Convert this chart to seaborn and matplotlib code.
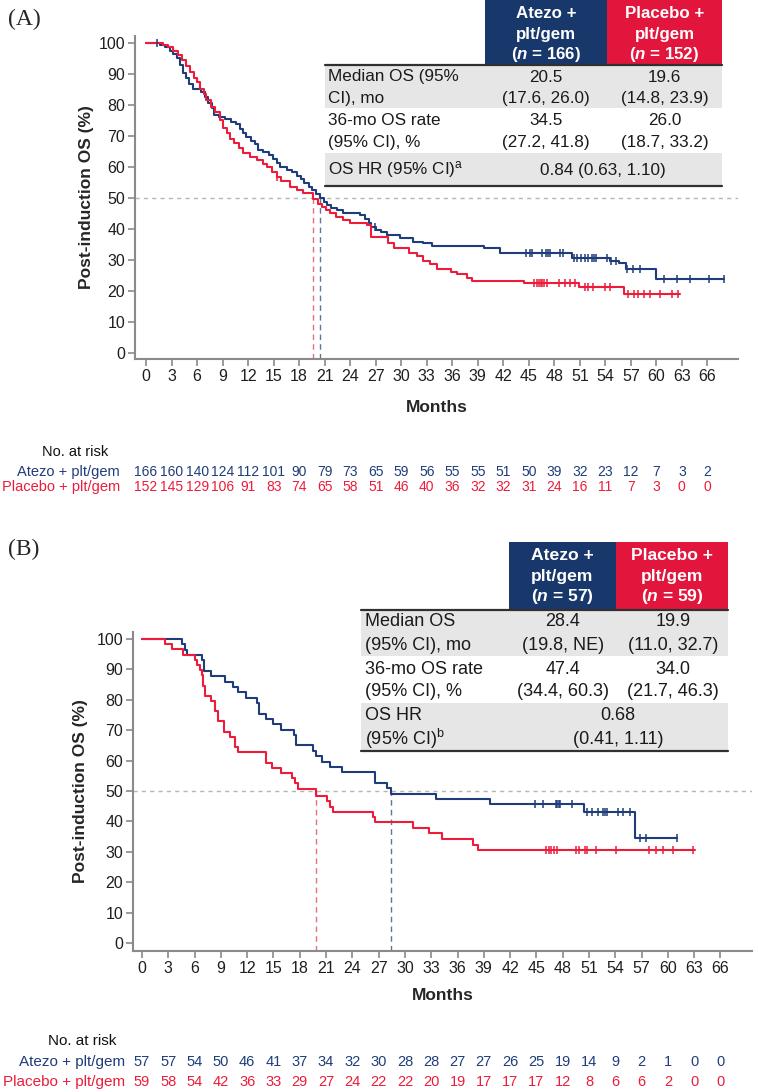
import numpy as np
import pandas as pd
import matplotlib
matplotlib.use("Agg")
import matplotlib.pyplot as plt
import seaborn as sns
from matplotlib.patches import Rectangle
from matplotlib.lines import Line2D

# ---------------- data ----------------
month_ticks = list(range(0, 67, 3))

# panel A, Kaplan-Meier steps (month, OS %)
a_atezo_t = [0, 1.6, 2.2, 2.8, 3.2, 3.6, 4.0, 4.3, 4.7, 5.1, 5.5, 6.5, 6.9, 7.3, 7.7, 8.0, 8.6, 9.3, 10.0, 10.6,
             11.0, 11.4, 11.8, 12.3, 12.8, 13.2, 13.8, 14.4, 14.9, 15.4, 15.8, 16.6, 17.2, 17.7, 18.2, 18.6, 19.1, 19.5,
             20.0, 20.5, 20.9, 21.3, 21.7, 22.5, 23.2, 25.2, 25.8, 26.2, 26.5, 27.0, 27.6, 28.3, 29.8, 31.4, 32.6, 33.6,
             39.7, 41.6, 50.1, 54.6, 55.6, 56.4, 59.9]
a_atezo_s = [100, 99.4, 98.8, 97.6, 96.4, 95.2, 92.8, 90.4, 88.6, 86.7, 85.3, 84.3, 82.5, 80.7, 78.9, 76.7, 76.1, 75.5,
             74.6, 73.7, 72.3, 70.8, 69.6, 68.4, 67.5, 65.4, 64.8, 63.9, 62.7, 61.2, 60.0, 59.0, 58.4, 57.2, 56.0, 54.8,
             53.6, 52.4, 51.2, 50.0, 48.8, 47.6, 46.6, 46.0, 45.2, 44.4, 43.0, 41.8, 40.6, 39.6, 38.8, 38.0, 37.1, 35.8,
             35.3, 34.5, 33.7, 32.3, 30.6, 29.6, 28.8, 26.9, 23.8]
a_atezo_end = 67.9
a_atezo_cens = [1.3, 26.9, 44.7, 45.1, 45.4, 46.6, 47.0, 47.3, 47.5, 48.7, 49.0, 50.3, 50.7, 51.1, 51.6, 52.0, 52.4,
                52.7, 52.9, 54.2, 54.7, 55.3, 56.5, 57.3, 58.1, 60.9, 62.4, 64.0, 66.2, 67.9]

a_plac_t = [0, 2.0, 2.6, 3.2, 3.7, 4.2, 4.7, 5.2, 5.6, 6.0, 6.4, 6.8, 7.1, 7.6, 8.1, 8.7, 9.1, 9.5, 9.9, 10.3, 10.9,
            11.4, 12.2, 13.0, 13.8, 14.2, 14.8, 15.4, 15.9, 16.9, 17.7, 18.5, 19.6, 20.2, 20.7, 21.2, 21.6, 22.3, 23.2,
            24.0, 26.0, 26.4, 28.5, 29.1, 30.9, 31.8, 32.6, 33.4, 34.2, 35.8, 36.6, 37.7, 38.3, 44.4, 50.9, 56.2]
a_plac_s = [100, 99.3, 98.7, 97.6, 96.0, 94.4, 92.5, 90.6, 88.8, 87.5, 85.3, 83.5, 81.5, 79.4, 77.8, 75.1, 72.5, 70.8,
            69.0, 67.6, 66.0, 64.4, 63.3, 62.2, 60.9, 60.0, 58.4, 56.8, 55.5, 53.5, 52.5, 51.4, 49.6, 48.0, 47.1, 46.0,
            45.0, 43.8, 42.8, 41.7, 41.2, 37.4, 35.3, 33.7, 32.1, 31.2, 29.7, 28.6, 26.9, 26.0, 25.4, 24.0, 23.2, 22.4,
            21.1, 18.8]
a_plac_end = 62.8
a_plac_cens = [15.4, 45.6, 46.0, 46.2, 46.4, 46.5, 46.8, 47.1, 48.5, 49.3, 49.8, 50.4, 51.6, 52.0, 52.5, 54.0, 54.5,
               56.7, 57.4, 57.9, 58.5, 59.2, 60.4, 61.8, 62.6]

a_risk_atezo = [166, 160, 140, 124, 112, 101, 90, 79, 73, 65, 59, 56, 55, 55, 51, 50, 39, 32, 23, 12, 7, 3, 2]
a_risk_plac = [152, 145, 129, 106, 91, 83, 74, 65, 58, 51, 46, 40, 36, 32, 32, 31, 24, 16, 11, 7, 3, 0, 0]
a_median = [20.5, 19.6]
a_n = [166, 152]
a_table = [["Median OS (95%", "20.5", "19.6"],
           ["CI), mo", "(17.6, 26.0)", "(14.8, 23.9)"],
           ["36-mo OS rate", "34.5", "26.0"],
           ["(95% CI), %", "(27.2, 41.8)", "(18.7, 33.2)"]]
a_hr = ["OS HR (95% CI)$^{\\mathrm{a}}$", "0.84 (0.63, 1.10)"]

# panel B
b_atezo_t = [0, 4.6, 4.9, 5.1, 6.8, 7.1, 7.9, 9.5, 10.4, 11.0, 11.9, 13.1, 13.4, 14.2, 15.0, 15.9, 17.3, 17.6, 19.5,
             19.9, 20.5, 21.4, 22.8, 26.6, 28.0, 28.4, 33.6, 39.7, 50.4, 56.3]
b_atezo_s = [100, 98.2, 96.5, 94.7, 93.0, 89.5, 87.7, 86.0, 84.2, 82.5, 80.7, 78.9, 75.4, 73.7, 71.9, 70.2, 68.4, 65.0,
             63.2, 61.4, 59.6, 57.9, 56.1, 52.6, 50.9, 49.1, 47.4, 45.6, 43.0, 34.4]
b_atezo_end = 61.0
b_atezo_cens = [44.8, 45.7, 47.2, 47.4, 47.6, 47.7, 49.1, 50.8, 51.4, 52.0, 52.6, 52.8, 53.1, 54.3, 54.9, 55.7,
                56.8, 57.5, 61.0]

b_plac_t = [0, 2.6, 3.4, 4.7, 6.0, 6.3, 6.6, 6.8, 7.0, 7.2, 7.9, 8.3, 8.7, 9.3, 10.0, 10.6, 11.0, 14.2, 14.8, 15.9,
            17.1, 17.4, 17.8, 19.9, 21.1, 21.4, 21.8, 26.4, 26.6, 30.9, 32.8, 34.2, 37.8, 38.3]
b_plac_s = [100, 98.3, 96.6, 94.9, 93.2, 91.5, 89.8, 88.1, 84.7, 81.4, 79.7, 76.3, 72.9, 69.5, 67.8, 64.4, 62.7, 59.3,
            57.6, 55.9, 54.2, 52.5, 50.6, 48.3, 46.6, 44.9, 43.2, 41.5, 39.8, 38.0, 36.1, 34.1, 32.3, 30.6]
b_plac_end = 63.1
b_plac_cens = [46.1, 46.4, 46.7, 47.0, 47.4, 49.5, 49.9, 50.6, 50.8, 51.8, 54.1, 57.9, 58.7, 59.4, 60.6, 62.9]

b_risk_atezo = [57, 57, 54, 50, 46, 41, 37, 34, 32, 30, 28, 28, 27, 27, 26, 25, 19, 14, 9, 2, 1, 0, 0]
b_risk_plac = [59, 58, 54, 42, 36, 33, 29, 27, 24, 22, 22, 20, 19, 17, 17, 17, 12, 8, 6, 6, 2, 0, 0]
b_median = [28.4, 19.9]
b_n = [57, 59]
b_table = [["Median OS", "28.4", "19.9"],
           ["(95% CI), mo", "(19.8, NE)", "(11.0, 32.7)"],
           ["36-mo OS rate", "47.4", "34.0"],
           ["(95% CI), %", "(34.4, 60.3)", "(21.7, 46.3)"]]
b_hr = [["OS HR", "0.68"], ["(95% CI)$^{\\mathrm{b}}$", "(0.41, 1.11)"]]

arms = ["Atezo + plt/gem", "Placebo + plt/gem"]
head_top = ["Atezo +", "Placebo +"]

# ---------------- style ----------------
BLUE = "#1f3d7a"
RED = "#ec1c3a"
NAVY_BOX = "#18386c"
RED_BOX = "#e2163c"
GRAY_ROW = "#e6e6e6"
SPINE = "#8a8a8a"

sns.set_style("ticks")
plt.rcParams["font.family"] = ["Liberation Sans", "DejaVu Sans"]
plt.rcParams["mathtext.fontset"] = "custom"
plt.rcParams["mathtext.rm"] = "Liberation Sans"
plt.rcParams["mathtext.it"] = "Liberation Sans:italic"
plt.rcParams["mathtext.bf"] = "Liberation Sans:bold"
plt.rcParams["mathtext.bfit"] = "Liberation Sans:italic:bold"

W, H = 758, 1092
fig = plt.figure(figsize=(W / 100, H / 100), dpi=100)


def fx(x):
    return x / W


def fy(y):
    return 1 - y / H


def rect(x0, y0, x1, y1, color):
    fig.patches.append(Rectangle((fx(x0), fy(y1)), (x1 - x0) / W, (y1 - y0) / H,
                                 transform=fig.transFigure, facecolor=color, edgecolor="none", zorder=1))


def hline(x0, x1, y, lw=1.6, color="#303030"):
    fig.add_artist(Line2D([fx(x0), fx(x1)], [fy(y), fy(y)], transform=fig.transFigure,
                          color=color, lw=lw, zorder=2))


def ftext(x, y, s, **kw):
    fig.text(fx(x), fy(y), s, va="center", **kw)


def km(ax, t, s, end, cens, color):
    df = pd.DataFrame({"t": t + [end], "s": s + [s[-1]]})
    sns.lineplot(data=df, x="t", y="s", drawstyle="steps-post", color=color, lw=1.5,
                 estimator=None, ax=ax, zorder=3)
    ta = np.array(t)
    cy = [s[np.searchsorted(ta, c, side="right") - 1] for c in cens]
    sns.scatterplot(x=cens, y=cy, marker="|", s=35, linewidth=1.1, color=color, ax=ax, zorder=4)


def panel(box, xlim, ylim, curves, medians, risk, risk_rows, fs_risk, ylab_x, xlab_y, no_risk_x, lab_right):
    ax = fig.add_axes(box)
    ax.set_facecolor("none")
    ax.axhline(50, color="#b5b5b5", lw=1, ls=(0, (3, 3)), zorder=1)
    for m, c in zip(medians, ["#5f7699", "#e5707f"]):
        ax.vlines(m, ylim[0], 50, color=c, lw=1, linestyles=(0, (4, 3)), zorder=2)
    for t, s, end, cens, color in curves:
        km(ax, t, s, end, cens, color)
    ax.set_xlim(*xlim)
    ax.set_ylim(*ylim)
    ax.set_xticks(month_ticks)
    ax.set_yticks(range(0, 101, 10))
    sns.despine(ax=ax)
    for sp in ["left", "bottom"]:
        ax.spines[sp].set_color(SPINE)
        ax.spines[sp].set_linewidth(1.5)
    ax.tick_params(direction="out", length=5, width=1.2, color=SPINE, labelsize=11.5,
                   labelcolor="#1e1e1e", pad=2)
    ax.set_xlabel("Months", fontsize=12.5, fontweight="bold")
    ax.set_ylabel("Post-induction OS (%)", fontsize=12.5, fontweight="bold")
    ax.xaxis.label.set_va("center")
    ax.xaxis.set_label_coords(0.5, xlab_y)
    ax.yaxis.set_label_coords(ylab_x, 0.5)

    # number at risk
    tr = matplotlib.transforms.blended_transform_factory(ax.transData, fig.transFigure)
    y_no, y1, y2 = risk_rows
    ftext(no_risk_x, y_no, "No. at risk", fontsize=fs_risk + 0.5, ha="left", color="#111111")
    for vals, y, color, name in zip(risk, [y1, y2], [BLUE, RED], arms):
        ftext(lab_right, y, name, fontsize=fs_risk + 0.5, ha="right", color=color)
        for m, v in zip(month_ticks, vals):
            ax.text(m, fy(y), str(v), transform=tr, ha="center", va="center",
                    fontsize=fs_risk, color=color, clip_on=False)
    return ax


# ---------------- panel A ----------------
panel([fx(135), fy(359), (738 - 135) / W, (359 - 36) / H], (-1.3, 69.6), (-2.1, 102.3),
      [(a_atezo_t, a_atezo_s, a_atezo_end, a_atezo_cens, BLUE),
       (a_plac_t, a_plac_s, a_plac_end, a_plac_cens, RED)],
      a_median, [a_risk_atezo, a_risk_plac], (452, 472, 487), 10, -0.068, -0.149, 42, 120)

# table A
rect(485, 0, 607, 64, NAVY_BOX)
rect(607, 0, 722, 64, RED_BOX)
for cx, n, top in zip([546, 664.5], a_n, head_top):
    ftext(cx, 14, top, fontsize=12.2, fontweight="bold", color="white", ha="center")
    ftext(cx, 34, "plt/gem", fontsize=12.2, fontweight="bold", color="white", ha="center")
    ftext(cx, 54, "($\\mathbfit{n}$ = %d)" % n, fontsize=12.2, fontweight="bold", color="white", ha="center")
rect(325, 65, 722, 108, GRAY_ROW)
rect(325, 153, 722, 185, GRAY_ROW)
hline(325, 722, 64.5)
hline(325, 722, 185.5)
for row, y in zip(a_table, [77, 99, 120, 143]):
    ftext(328, y, row[0], fontsize=12.3, ha="left", color="#1a1a1a")
    ftext(546, y, row[1], fontsize=12.3, ha="center", color="#1a1a1a")
    ftext(664.5, y, row[2], fontsize=12.3, ha="center", color="#1a1a1a")
ftext(328, 170, a_hr[0], fontsize=12.3, ha="left", color="#1a1a1a")
ftext(603, 170, a_hr[1], fontsize=12.3, ha="center", color="#1a1a1a")

# ---------------- panel B ----------------
panel([fx(133), fy(951), (752 - 133) / W, (951 - 632) / H], (-1.03, 69.6), (-2.6, 102.3),
      [(b_atezo_t, b_atezo_s, b_atezo_end, b_atezo_cens, BLUE),
       (b_plac_t, b_plac_s, b_plac_end, b_plac_cens, RED)],
      b_median, [b_risk_atezo, b_risk_plac], (1041, 1062, 1082), 10.5, -0.072, -0.138, 48, 125)

rect(509, 542, 616, 609, NAVY_BOX)
rect(616, 542, 728, 609, RED_BOX)
for cx, n, top in zip([562.5, 672], b_n, head_top):
    ftext(cx, 555, top, fontsize=12.6, fontweight="bold", color="white", ha="center")
    ftext(cx, 576, "plt/gem", fontsize=12.6, fontweight="bold", color="white", ha="center")
    ftext(cx, 597, "($\\mathbfit{n}$ = %d)" % n, fontsize=12.6, fontweight="bold", color="white", ha="center")
rect(361, 610, 728, 656, GRAY_ROW)
rect(361, 703, 728, 750, GRAY_ROW)
hline(361, 728, 609.5)
hline(361, 728, 750.5)
for row, y in zip(b_table, [622, 645, 669, 692]):
    ftext(365, y, row[0], fontsize=13, ha="left", color="#1a1a1a")
    ftext(563, y, row[1], fontsize=13, ha="center", color="#1a1a1a")
    ftext(673, y, row[2], fontsize=13, ha="center", color="#1a1a1a")
for row, y in zip(b_hr, [716, 739]):
    ftext(365, y, row[0], fontsize=13, ha="left", color="#1a1a1a")
    ftext(618, y, row[1], fontsize=13, ha="center", color="#1a1a1a")

# panel letters
ftext(8, 19, "(A)", fontsize=17, family="Liberation Serif", ha="left")
ftext(8, 549, "(B)", fontsize=17, family="Liberation Serif", ha="left")

fig.savefig("out.png", dpi=100)
